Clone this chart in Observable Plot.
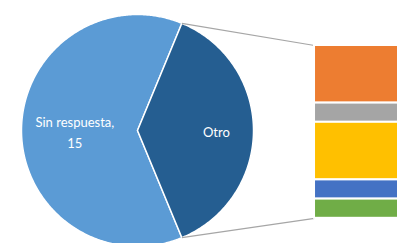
<!DOCTYPE html>
<html>
<head>
<meta charset="utf-8">
<script src="https://cdn.jsdelivr.net/npm/d3@7"></script>
<script src="https://cdn.jsdelivr.net/npm/@observablehq/plot@0.6"></script>
<style>
  html, body { margin: 0; padding: 0; background: #fff; overflow: hidden; }
  #chart svg { display: block; overflow: hidden; }
</style>
</head>
<body>
<div id="chart"></div>
<script>
// ---- data ----
const pieCategories = ["Sin respuesta", "Otro"];
const pieValues = [15, 9];
const pieColors = ["#5b9bd5", "#255e91"];
const pieLabels = ["Sin respuesta,\n15", "Otro"];

// breakdown of "Otro" (top to bottom in the bar)
const barCategories = ["Otro 1", "Otro 2", "Otro 3", "Otro 4", "Otro 5"];
const barValues = [3, 1, 3, 1, 1];
const barColors = ["#ed7d31", "#a5a5a5", "#ffc000", "#4472c4", "#70ad47"];

// ---- layout (units = one value unit of the bar) ----
const W = 397, H = 243;
const cx = 0, cy = 4.573, R = 6.042;     // pie center / radius
const barX1 = 9.22, barX2 = 16;           // bar horizontal extent
const otroIndex = 1;

// pie angles: "Otro" slice centred pointing right (clockwise from top)
const total = d3.sum(pieValues);
const otroSpan = 2 * Math.PI * pieValues[otroIndex] / total;
const start = Math.PI / 2 - otroSpan / 2;
const arcs = d3.pie().sort(null).startAngle(start - 2 * Math.PI * pieValues[0] / total).endAngle(start - 2 * Math.PI * pieValues[0] / total + 2 * Math.PI)(pieValues);

const pt = (a, r) => [cx + r * Math.sin(a), cy + r * Math.cos(a)];
const slicePts = [];
arcs.forEach((arc, i) => {
  const n = Math.max(8, Math.ceil((arc.endAngle - arc.startAngle) / 0.01));
  slicePts.push({cat: pieCategories[i], x: cx, y: cy});
  for (let k = 0; k <= n; k++) {
    const a = arc.startAngle + (arc.endAngle - arc.startAngle) * k / n;
    const [x, y] = pt(a, R);
    slicePts.push({cat: pieCategories[i], x, y});
  }
});

const labelR = [0.54, 0.68];
const labels = arcs.map((arc, i) => {
  const m = (arc.startAngle + arc.endAngle) / 2;
  const [x, y] = pt(m, R * labelR[i]);
  return {text: pieLabels[i], x, y};
});

const bars = barCategories.map((c, i) => ({cat: c, value: barValues[i]}));
const barTotal = d3.sum(barValues);

// connectors from the "Otro" slice edge to the bar
const oArc = arcs[otroIndex];
const [ux, uy] = pt(oArc.startAngle, R);
const [lx, ly] = pt(oArc.endAngle, R);
const connectors = [
  {x1: ux, y1: uy, x2: barX1, y2: barTotal},
  {x1: lx, y1: ly, x2: barX1, y2: 0}
];

const k = 19.2; // px per unit
const chart = Plot.plot({
  width: W, height: H,
  margin: 0,
  x: {domain: [-137 / k, (W - 137) / k], axis: null},
  y: {domain: [-(H - 217.8) / k, 217.8 / k], axis: null},
  color: {domain: [...pieCategories, ...barCategories], range: [...pieColors, ...barColors]},
  marks: [
    Plot.line(slicePts, {x: "x", y: "y", z: "cat", fill: "cat", stroke: "white", strokeWidth: 1.5, curve: "linear-closed"}),
    Plot.link(connectors, {x1: "x1", y1: "y1", x2: "x2", y2: "y2", stroke: "#a6a6a6", strokeWidth: 1.2}),
    Plot.rectY(bars, Plot.stackY({x1: () => barX1, x2: () => barX2, y: "value", fill: "cat", stroke: "white", strokeWidth: 2, reverse: true})),
    Plot.text(labels, {x: "x", y: "y", text: "text", fill: "white", fontSize: 13, lineHeight: 1.6, fontFamily: "Lato, sans-serif"})
  ]
});
document.getElementById("chart").appendChild(chart);
</script>
</body>
</html>
